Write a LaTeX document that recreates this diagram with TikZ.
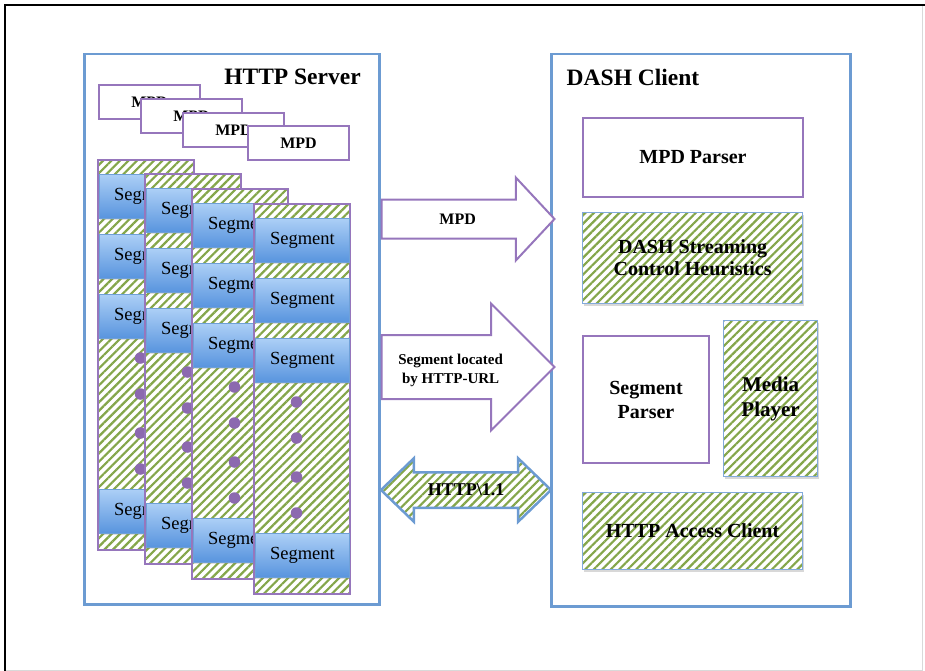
\documentclass[tikz,border=0pt]{standalone}
\usepackage{fontspec}
\setmainfont{Liberation Serif}
\usepackage{tikz}
\newcommand{\stackwidth}{96pt}
\newcommand{\stackheight}{390pt}
\newcommand{\segwidth}{94pt}
\newcommand{\segheight}{44pt}
\newcommand{\mpdwidth}{101pt}
\newcommand{\mpdheight}{34pt}
\definecolor{boxBlue}{RGB}{108,155,210}
\definecolor{partBlue}{RGB}{130,170,220}
\definecolor{boxPurple}{RGB}{150,118,188}
\definecolor{hatchGreen}{RGB}{132,166,74}
\definecolor{segTop}{RGB}{172,207,246}
\definecolor{segBottom}{RGB}{88,148,222}
\definecolor{segBorder}{RGB}{110,160,215}
\definecolor{dotPurple}{RGB}{140,105,175}
\usetikzlibrary{calc,patterns.meta,positioning,shadows,shapes.arrows}
\tikzset{
  x=1pt,y=-1pt,
  hatched/.style={preaction={fill=white},pattern={Lines[angle=45,distance=6pt,line width=2.2pt]},pattern color=hatchGreen},
  panel/.style={draw=boxBlue,line width=2.5pt,fill=white,anchor=north west,inner sep=0},
  title/.style={font=\bfseries\fontsize{23.5}{28}\selectfont},
  mpd/.style={draw=boxPurple,line width=2pt,fill=white,anchor=north west,minimum width=\mpdwidth,minimum height=\mpdheight,inner sep=0,font=\bfseries\fontsize{16}{19}\selectfont},
  stack/.style={draw=boxPurple,line width=1.5pt,hatched,anchor=north west,minimum width=\stackwidth,minimum height=\stackheight,inner sep=0},
  seg/.style={draw=segBorder,line width=0.8pt,top color=segTop,bottom color=segBottom,drop shadow={opacity=.25,shadow xshift=1pt,shadow yshift=-2pt},anchor=north west,minimum width=\segwidth,minimum height=\segheight,inner sep=0,font=\fontsize{18.5}{20}\selectfont},
  seqdot/.style={circle,fill=dotPurple,minimum size=11.5pt,inner sep=0},
  plainpart/.style={draw=boxPurple,line width=2pt,fill=white,anchor=north west,inner sep=0,align=center,font=\bfseries\fontsize{20}{24}\selectfont},
  hatchpart/.style={draw=partBlue,line width=1.2pt,drop shadow={opacity=.3,shadow xshift=1pt,shadow yshift=-2pt},hatched,anchor=north west,inner sep=0,align=center,font=\bfseries\fontsize{20}{22}\selectfont},
  fatarrow/.style={single arrow,draw=boxPurple,line width=2pt,fill=white,inner xsep=0,anchor=tail},
  arrowlabel/.style={align=center,font=\bfseries\fontsize{15}{19}\selectfont},
}

\begin{document}
\begin{tikzpicture}
  \useasboundingbox (0,0) rectangle (925,671);
  \draw [gray!30,line width=1pt] (922,5) -- (922,670) -- (5,670);
  \draw [black,line width=2pt] (5,671) -- (5,5) -- (925,5);

  % server side
  \node (server) [panel,minimum width=295pt,minimum height=550pt] at (83,53) {};
  \node (servertitle) [title] at ($(server.north east)+(-88,24)$) {HTTP Server};

  \node (mpd1) [mpd] at (98,84) {MPD};
  \node (mpd2) [mpd] at (140,98) {MPD};
  \node (mpd3) [mpd] at (182,112) {MPD};
  \node (mpd4) [mpd] at (247,125) {MPD};

  \node (st1) [stack] at (97,159) {};
  \node (s11) [seg] at ($(st1.north west)+(2,15)$) {Segment};
  \node (s12) [seg] at ($(st1.north west)+(2,75)$) {Segment};
  \node (s13) [seg] at ($(st1.north west)+(2,135)$) {Segment};
  \node (d11) [seqdot] at ($(st1.north west)+(43.5,199)$) {};
  \node (d12) [seqdot] at ($(st1.north west)+(43.5,235)$) {};
  \node (d13) [seqdot] at ($(st1.north west)+(43.5,274)$) {};
  \node (d14) [seqdot] at ($(st1.north west)+(43.5,310)$) {};
  \node (s14) [seg] at ($(st1.north west)+(2,330)$) {Segment};

  \node (st2) [stack] at (144,173) {};
  \node (s21) [seg] at ($(st2.north west)+(2,15)$) {Segment};
  \node (s22) [seg] at ($(st2.north west)+(2,75)$) {Segment};
  \node (s23) [seg] at ($(st2.north west)+(2,135)$) {Segment};
  \node (d21) [seqdot] at ($(st2.north west)+(43.5,199)$) {};
  \node (d22) [seqdot] at ($(st2.north west)+(43.5,235)$) {};
  \node (d23) [seqdot] at ($(st2.north west)+(43.5,274)$) {};
  \node (d24) [seqdot] at ($(st2.north west)+(43.5,310)$) {};
  \node (s24) [seg] at ($(st2.north west)+(2,330)$) {Segment};

  \node (st3) [stack] at (191,188) {};
  \node (s31) [seg] at ($(st3.north west)+(2,15)$) {Segment};
  \node (s32) [seg] at ($(st3.north west)+(2,75)$) {Segment};
  \node (s33) [seg] at ($(st3.north west)+(2,135)$) {Segment};
  \node (d31) [seqdot] at ($(st3.north west)+(43.5,199)$) {};
  \node (d32) [seqdot] at ($(st3.north west)+(43.5,235)$) {};
  \node (d33) [seqdot] at ($(st3.north west)+(43.5,274)$) {};
  \node (d34) [seqdot] at ($(st3.north west)+(43.5,310)$) {};
  \node (s34) [seg] at ($(st3.north west)+(2,330)$) {Segment};

  \node (st4) [stack] at (253,203) {};
  \node (s41) [seg] at ($(st4.north west)+(2,15)$) {Segment};
  \node (s42) [seg] at ($(st4.north west)+(2,75)$) {Segment};
  \node (s43) [seg] at ($(st4.north west)+(2,135)$) {Segment};
  \node (d41) [seqdot] at ($(st4.north west)+(43.5,199)$) {};
  \node (d42) [seqdot] at ($(st4.north west)+(43.5,235)$) {};
  \node (d43) [seqdot] at ($(st4.north west)+(43.5,274)$) {};
  \node (d44) [seqdot] at ($(st4.north west)+(43.5,310)$) {};
  \node (s44) [seg] at ($(st4.north west)+(2,330)$) {Segment};

  % client side
  \node (client) [panel,minimum width=299pt,minimum height=552pt] at (550,53) {};
  \node (clienttitle) [title] at ($(client.north west)+(83,24)$) {DASH Client};

  \node (mpdparser) [plainpart,minimum width=220pt,minimum height=79pt] at (582,117) {MPD Parser};
  \node (heuristics) [hatchpart,minimum width=220pt,minimum height=91pt] at (582,212) {DASH Streaming\\Control Heuristics};
  \node (segparser) [plainpart,minimum width=126pt,minimum height=127pt] at (582,335) {Segment\\Parser};
  \node (player) [hatchpart,minimum width=94pt,minimum height=156pt,font=\bfseries\fontsize{21}{25}\selectfont] at (723,320) {Media\\Player};
  \node (access) [hatchpart,minimum width=220pt,minimum height=77pt] at (582,492) {HTTP Access Client};

  % transfers
  \node (mpdarrow) [fatarrow,inner ysep=18.5pt,minimum height=173pt,single arrow head extend=22pt,single arrow tip angle=94] at (server.east |- 0,219) {};
  \node (mpdlabel) [arrowlabel,font=\bfseries\fontsize{16}{19}\selectfont] at ($(mpdarrow.tail)!0.44!(mpdarrow.tip)$) {MPD};

  \node (segarrow) [fatarrow,inner ysep=31pt,minimum height=173pt,single arrow head extend=31.5pt] at (server.east |- 0,367) {};
  \node (seglabel) [arrowlabel] at ($(segarrow.tail)!0.40!(segarrow.tip)+(0,3)$) {Segment located\\by HTTP-URL};

  \node (httparrow) [double arrow,draw=boxBlue,line width=2.5pt,hatched,inner xsep=0,inner ysep=16.5pt,minimum height=170pt,double arrow head extend=14pt,double arrow tip angle=88] at (466,490) {};
  \node (httplabel) [arrowlabel,font=\bfseries\fontsize{18}{21}\selectfont] at (httparrow.center) {HTTP\textbackslash 1.1};
\end{tikzpicture}
\end{document}
